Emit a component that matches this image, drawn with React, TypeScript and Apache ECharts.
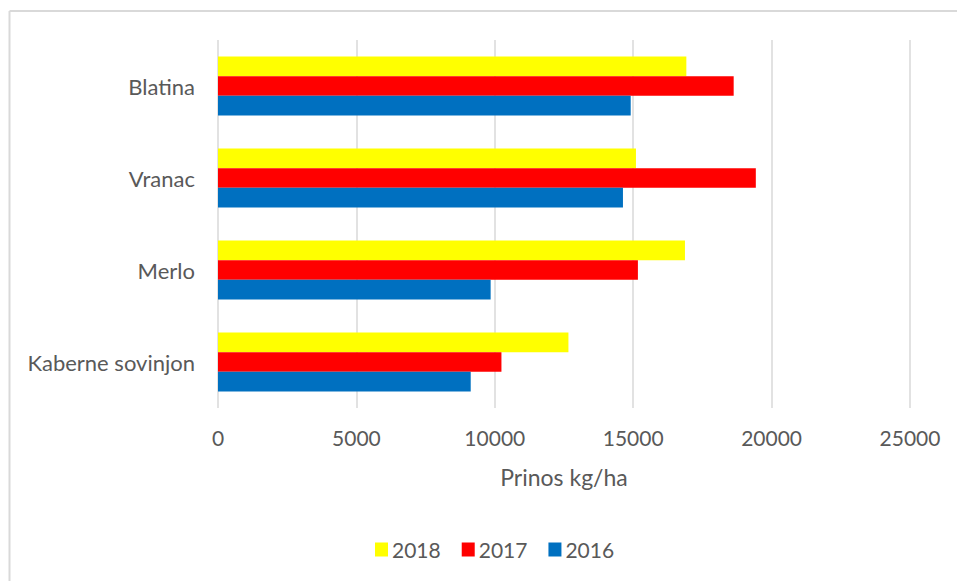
import React, { useEffect, useRef } from "react";
import * as echarts from "echarts";

const categories = ["Kaberne sovinjon", "Merlo", "Vranac", "Blatina"];
const y2016 = [9130, 9850, 14630, 14910];
const y2017 = [10240, 15170, 19430, 18630];
const y2018 = [12660, 16870, 15100, 16920];
const xTicks = [0, 5000, 10000, 15000, 20000, 25000];
const legendOrder = ["2018", "2017", "2016"];

const FONT = "Lato, 'Open Sans', sans-serif";
const GRAY = "#595959";

export default function App() {
  const ref = useRef<HTMLDivElement>(null);
  useEffect(() => {
    if (!ref.current) return;
    const chart = echarts.init(ref.current, undefined, { renderer: "svg" });
    chart.setOption({
      animation: false,
      backgroundColor: "#ffffff",
      textStyle: { fontFamily: FONT },
      graphic: [
        { type: "line", shape: { x1: 9.5, y1: 11, x2: 9.5, y2: 581 }, style: { stroke: "#d9d9d9", lineWidth: 2 } },
        { type: "line", shape: { x1: 9.5, y1: 11, x2: 957, y2: 11 }, style: { stroke: "#d9d9d9", lineWidth: 2 } },
      ],
      grid: { left: 218, right: 47, top: 40, bottom: 173, containLabel: false },
      legend: {
        data: legendOrder,
        top: 534,
        left: 370,
        itemWidth: 13,
        itemHeight: 14,
        itemGap: 21,
        itemStyle: { borderWidth: 0 },
        icon: "rect",
        textStyle: { fontFamily: FONT, fontSize: 21, color: GRAY, padding: [0, 0, 0, -1] },
      },
      xAxis: {
        type: "value",
        min: xTicks[0],
        max: xTicks[xTicks.length - 1],
        interval: 5000,
        name: "Prinos kg/ha",
        nameLocation: "middle",
        nameGap: 57,
        nameTextStyle: { fontFamily: FONT, fontSize: 23, color: GRAY },
        axisLine: { show: false },
        axisTick: { show: false },
        axisLabel: { fontFamily: FONT, fontSize: 21, color: GRAY, margin: 19, formatter: (v: number) => String(v) },
        splitLine: { show: true, lineStyle: { color: "#d9d9d9", width: 1.5 } },
      },
      yAxis: {
        type: "category",
        data: categories,
        axisLine: { show: false },
        axisTick: { show: false },
        axisLabel: { fontFamily: FONT, fontSize: 22, color: GRAY, margin: 23 },
      },
      series: [
        { name: "2018", type: "bar", data: y2018, itemStyle: { color: "#FFFF00" }, barGap: "0%", barCategoryGap: "36%" },
        { name: "2017", type: "bar", data: y2017, itemStyle: { color: "#FF0000" }, barGap: "0%", barCategoryGap: "36%" },
        { name: "2016", type: "bar", data: y2016, itemStyle: { color: "#0070C0" }, barGap: "0%", barCategoryGap: "36%" },
      ],
    });
    return () => chart.dispose();
  }, []);
  return (
    <div
      ref={ref}
      style={{ position: "fixed", left: 0, top: 0, width: 957, height: 581 }}
    />
  );
}
